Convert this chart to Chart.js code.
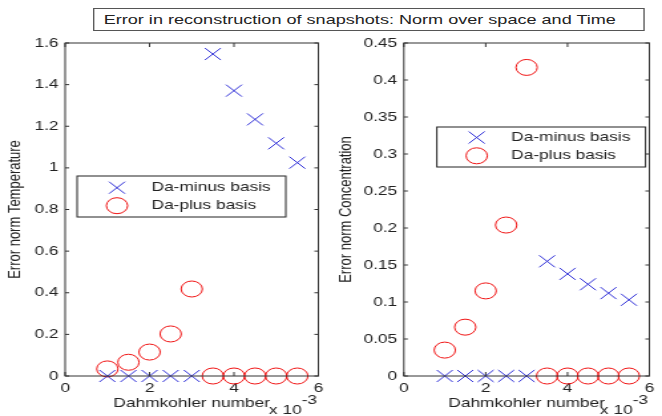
<!DOCTYPE html>
<html>
<head>
<meta charset="utf-8">
<script src="https://cdn.jsdelivr.net/npm/chart.js@4"></script>
<style>
  html, body { margin: 0; padding: 0; background: #fff; overflow: hidden; }
  /* the reference figure is stretched horizontally, so lay out narrow and scale */
  #stage { position: absolute; left: 0; top: 0; width: 498px; height: 416px;
           transform: scaleX(1.3293); transform-origin: 0 0; }
  .panel { position: absolute; top: 0; width: 249px; height: 416px; }
  #title { position: absolute; left: 70px; top: 8px; width: 406px; height: 21px;
           border: 1px solid #555; padding-left: 7px; background: #fff;
           font: 13.6px "Liberation Sans", Arial, sans-serif; color: #222; line-height: 21px;
           white-space: nowrap; }
</style>
</head>
<body>
<div id="stage">
  <div class="panel" style="left:0"><canvas id="tempChart"></canvas></div>
  <div class="panel" style="left:249px"><canvas id="concChart"></canvas></div>
  <div id="title">Error in reconstruction of snapshots: Norm over space and Time</div>
</div>
<script>
// Dahmkohler number, in units of 1e-3
const daNumber = [1, 1.5, 2, 2.5, 3, 3.5, 4, 4.5, 5, 5.5];
const tempMinus = [0, 0, 0, 0, 0, 1.547, 1.371, 1.233, 1.118, 1.025];
const tempPlus = [0.034, 0.066, 0.115, 0.202, 0.418, 0, 0, 0, 0, 0];
const concMinus = [0, 0, 0, 0, 0, 0.155, 0.138, 0.124, 0.112, 0.103];
const concPlus = [0.035, 0.066, 0.115, 0.204, 0.417, 0, 0, 0, 0, 0];
const seriesNames = ["Da-minus basis", "Da-plus basis"];
const xTicks = [0, 2, 4, 6];
const xTitle = "Dahmkohler number";
const xExponent = "-3";

Chart.defaults.font.family = '"Liberation Sans", Arial, sans-serif';
Chart.defaults.font.size = 13;
Chart.defaults.color = "#222";

const pts = (ys) => daNumber.map((x, i) => ({ x: x, y: ys[i] }));
// matlab style labels: 1 not 1.0, 0.1 not 0.10
const tickText = (v) => String(+Number(v).toFixed(3));

// frame with inward ticks, matlab style
const framePlugin = {
  id: "frame",
  afterDatasetsDraw(chart) {
    const { ctx, chartArea: a, scales } = chart;
    ctx.save();
    ctx.strokeStyle = "#333";
    ctx.lineWidth = 1;
    ctx.strokeRect(a.left, a.top, a.right - a.left, a.bottom - a.top);
    ctx.beginPath();
    scales.x.ticks.forEach((t) => {
      const px = scales.x.getPixelForValue(t.value);
      ctx.moveTo(px, a.bottom); ctx.lineTo(px, a.bottom - 4);
      ctx.moveTo(px, a.top); ctx.lineTo(px, a.top + 4);
    });
    scales.y.ticks.forEach((t) => {
      const py = scales.y.getPixelForValue(t.value);
      ctx.moveTo(a.left, py); ctx.lineTo(a.left + 3, py);
      ctx.moveTo(a.right, py); ctx.lineTo(a.right - 3, py);
    });
    ctx.stroke();
    ctx.restore();
  },
  afterDraw(chart) {
    const { ctx, chartArea: a } = chart;
    ctx.save();
    ctx.fillStyle = "#222";
    ctx.font = '13px "Liberation Sans", Arial, sans-serif';
    ctx.textAlign = "right";
    ctx.textBaseline = "middle";
    const expRight = a.right - 1;
    ctx.fillText(xExponent, expRight, 400);
    const w = ctx.measureText(xExponent).width;
    ctx.fillText("x 10", expRight - w, 410);
    ctx.restore();
  },
};

// legend box drawn inside the axes
const boxLegendPlugin = {
  id: "boxLegend",
  afterDraw(chart, args, opts) {
    const { ctx } = chart;
    ctx.save();
    ctx.fillStyle = "#fff";
    ctx.fillRect(opts.left, opts.top, opts.width, opts.height);
    ctx.strokeStyle = "#222";
    ctx.lineWidth = 1;
    ctx.strokeRect(opts.left, opts.top, opts.width, opts.height);
    chart.data.datasets.forEach((ds, i) => {
      const y = opts.top + opts.rowTop + i * opts.rowGap;
      ctx.strokeStyle = ds.borderColor;
      ctx.fillStyle = "rgba(0,0,0,0)";
      ctx.lineWidth = 1;
      Chart.helpers.drawPoint(ctx, { pointStyle: ds.pointStyle, radius: ds.pointRadius, rotation: 0, borderWidth: 1 },
        opts.left + 30, y);
      ctx.fillStyle = "#222";
      ctx.font = '13px "Liberation Sans", Arial, sans-serif';
      ctx.textAlign = "left";
      ctx.textBaseline = "middle";
      ctx.fillText(ds.label, opts.left + 56, y);
    });
    ctx.restore();
  },
};

function makeChart(id, minus, plus, yMax, yStep, yTitle, plotLeft, padRight, legendBox) {
  return new Chart(document.getElementById(id), {
    type: "scatter",
    data: {
      datasets: [
        {
          label: seriesNames[0],
          data: pts(minus),
          pointStyle: "crossRot",
          pointRadius: 8.5,
          borderColor: "rgb(45,45,215)",
          backgroundColor: "rgba(0,0,0,0)",
          borderWidth: 1,
          clip: false,
        },
        {
          label: seriesNames[1],
          data: pts(plus),
          pointStyle: "circle",
          pointRadius: 8,
          borderColor: "rgb(240,20,20)",
          backgroundColor: "rgba(0,0,0,0)",
          borderWidth: 1,
          clip: false,
        },
      ],
    },
    options: {
      responsive: true,
      maintainAspectRatio: false,
      animation: false,
      events: [],
      layout: { padding: { top: 43, right: padRight, left: 0, bottom: 0 } },
      plugins: {
        legend: { display: false },
        tooltip: { enabled: false },
        boxLegend: legendBox,
      },
      scales: {
        x: {
          type: "linear",
          min: xTicks[0],
          max: xTicks[xTicks.length - 1],
          afterBuildTicks: (s) => { s.ticks = xTicks.map((v) => ({ value: v })); },
          ticks: { padding: 5, maxRotation: 0, callback: tickText },
          grid: { display: false, drawTicks: false },
          border: { display: false },
          title: { display: true, text: xTitle, font: { size: 13 }, padding: { top: 0, bottom: 5 } },
          afterFit: (s) => { s.height = 40; s.paddingLeft = 0; s.paddingRight = 0; },
        },
        y: {
          min: 0,
          max: yMax,
          ticks: { stepSize: yStep, padding: 5, callback: tickText },
          grid: { display: false, drawTicks: false },
          border: { display: false },
          title: { display: true, text: yTitle, font: { size: 13 }, padding: { top: 3.5, bottom: 0 } },
          afterFit: (s) => { s.width = plotLeft; s.paddingTop = 0; s.paddingBottom = 0; },
        },
      },
    },
    plugins: [framePlugin, boxLegendPlugin],
  });
}

makeChart("tempChart", tempMinus, tempPlus, 1.6, 0.2, "Error norm Temperature", 49, 8.4,
  { left: 58, top: 176, width: 157, height: 41, rowTop: 11.7, rowGap: 18 });
makeChart("concChart", concMinus, concPlus, 0.45, 0.05, "Error norm Concentration", 54.8, 2.5,
  { left: 79.6, top: 127, width: 157, height: 40, rowTop: 10.5, rowGap: 18.3 });
</script>
</body>
</html>
